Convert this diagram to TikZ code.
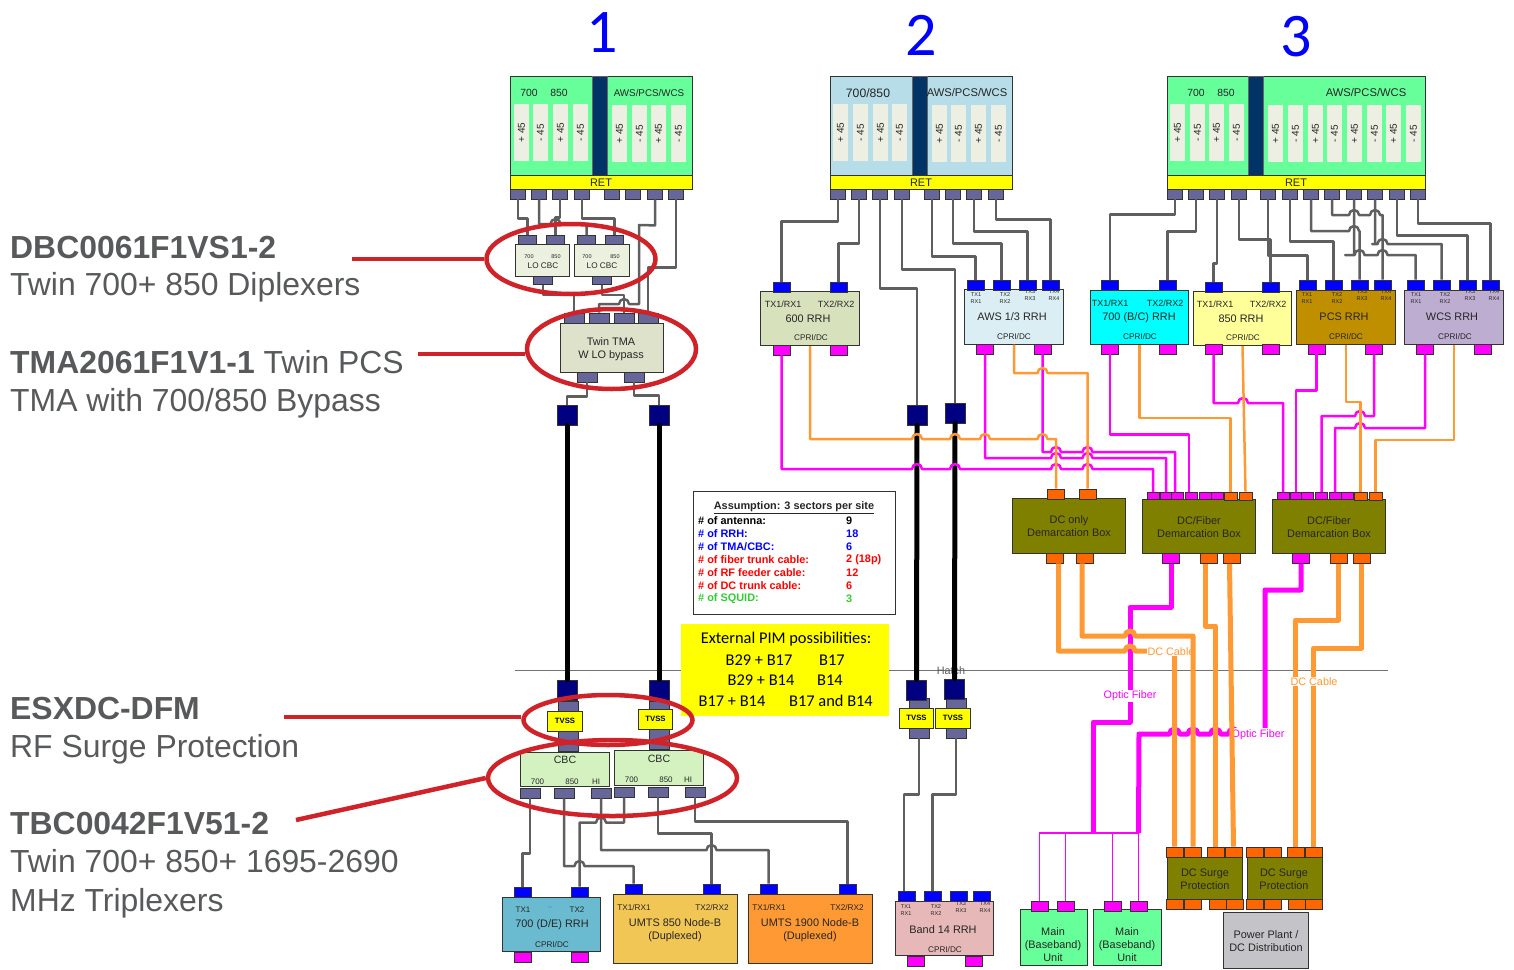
\documentclass[tikz,border=0pt]{standalone}
\usepackage{fontspec}
\setmainfont{Liberation Sans}
\newfontfamily\calfont{Carlito}
\usetikzlibrary{shapes.geometric}
\usetikzlibrary{positioning}
\usepackage{xcolor}

\definecolor{antgreen}{HTML}{66FF99}
\definecolor{antblue}{HTML}{B7DDE8}
\definecolor{barnavy}{HTML}{003366}
\definecolor{stripgrey}{HTML}{EEEFE3}
\definecolor{portgrey}{HTML}{666699}
\definecolor{rfgrey}{HTML}{5F5F5F}
\definecolor{dcorange}{HTML}{FF9933}
\definecolor{dcfill}{HTML}{FF6600}
\definecolor{navy}{HTML}{000080}
\definecolor{ringred}{HTML}{CF2229}
\definecolor{leftgrey}{HTML}{58595B}
\definecolor{olive}{HTML}{808000}
\definecolor{txtdark}{HTML}{262626}
\definecolor{cbcfill}{HTML}{D3F2C0}
\definecolor{lofill}{HTML}{EBF1DE}
\definecolor{tmafill}{HTML}{DEE2CB}
\definecolor{rrhteal}{HTML}{6BBBD0}
\definecolor{umtsyel}{HTML}{F2C655}
\definecolor{b14fill}{HTML}{E6B8B7}
\definecolor{rrhsage}{HTML}{D7E2BC}
\definecolor{awsfill}{HTML}{DAEEF3}
\definecolor{r85fill}{HTML}{FFFF99}
\definecolor{pcsfill}{HTML}{BF8F00}
\definecolor{wcsfill}{HTML}{BDADD0}
\definecolor{plantgrey}{HTML}{C4C4C8}
\definecolor{sqgreen}{HTML}{33CC33}
\definecolor{pink}{HTML}{FF00FF}
\definecolor{aqua}{HTML}{00FFFF}
\definecolor{lemon}{HTML}{FFFF00}

\newcommand{\fsz}[1]{\fontsize{#1}{#1}\selectfont}
% small bump of a line over a crossing line
\newcommand{\hopR}[2]{-- (#1-5,#2) arc[start angle=180,end angle=360,radius=5]}
\newcommand{\hopL}[2]{-- (#1+5,#2) arc[start angle=0,end angle=-180,radius=5]}

\tikzset{
  boxbase/.style={draw=black!80, line width=0.8pt, inner sep=0pt},
  antbox/.style={boxbase, fill=#1, minimum width=182, minimum height=99},
  navybar/.style={boxbase, draw=black!60, fill=barnavy, minimum width=15, minimum height=99},
  retbar/.style={boxbase, fill=lemon, minimum height=14, font=\fsz{11}, text=txtdark},
  stripbox/.style={fill=stripgrey, inner sep=0pt, minimum width=57, minimum height=15, rotate=90, font=\fsz{10}, text=txtdark},
  rfport/.style={boxbase, fill=portgrey, minimum width=15, minimum height=10},
  wideport/.style={boxbase, fill=portgrey, minimum width=20, minimum height=10},
  loport/.style={boxbase, fill=portgrey, minimum width=18.5, minimum height=8.5},
  rrhport/.style={boxbase, fill=blue, minimum width=17, minimum height=10},
  cpriport/.style={boxbase, fill=pink, minimum width=17, minimum height=10},
  dcport/.style={boxbase, fill=dcfill, minimum width=17, minimum height=10},
  pinport/.style={boxbase, fill=pink, minimum width=12, minimum height=7.5},
  dcpin/.style={boxbase, fill=dcfill, minimum width=13, minimum height=8},
  navysq/.style={boxbase, fill=navy, minimum width=20, minimum height=20},
  tvssbox/.style={boxbase, fill=lemon, minimum width=34.5, minimum height=20, font=\bfseries\fsz{7.7}, text=black},
  rrhbox/.style={boxbase, fill=#1, minimum width=98.5, minimum height=54.5},
  unitbox/.style={boxbase, fill=#1, minimum width=124, minimum height=69},
  demarcbox/.style={boxbase, fill=olive, minimum width=113, minimum height=54.5},
  surgebox/.style={boxbase, fill=olive, minimum width=75, minimum height=42},
  txt/.style={inner sep=0pt, yshift=-0.8pt, text=txtdark, font=\fontsize{10.9}{13}\selectfont, align=center},
  txtport/.style={txt, font=\fsz{9}},
  txtcpri/.style={txt, font=\fsz{8.2}},
  txttiny/.style={txt, font=\fontsize{5.5}{6.7}\selectfont},
  txtcbc/.style={txt, font=\fsz{8}},
  rowtxt/.style={inner sep=0pt, anchor=west, font=\bfseries\fsz{10.9}, text=#1},
  pimtxt/.style={inner sep=0pt, text=black, font=\calfont\fsz{16.4}},
  numtxt/.style={inner sep=0pt, text=blue, font=\calfont\fsz{62}},
  lefttxt/.style={inner sep=0pt, anchor=base west, text=leftgrey, font=\fsz{31.9}},
  cabletxt/.style={fill=white, inner sep=1pt, text=#1, font=\fsz{10.8}},
  ring/.style={ellipse, draw=ringred, line width=4.5pt, inner sep=0pt},
  calloutline/.style={draw=ringred, line width=4.5pt},
  rfline/.style={draw=rfgrey, line width=2.5pt, line join=round},
  feeder/.style={draw=black, line width=5pt, line cap=round},
  fiberline/.style={draw=pink, line width=2.5pt, line join=round},
  fiberfat/.style={draw=pink, line width=5pt, line join=round},
  fiberbus/.style={draw=pink, line width=1.5pt},
  dcline/.style={draw=dcorange, line width=2.5pt, line join=round},
  dcfat/.style={draw=dcorange, line width=5pt, line join=round},
  hatchline/.style={draw=black!55, line width=1pt}
}

\begin{document}
\begin{tikzpicture}[x=1pt, y=-1pt]
  \useasboundingbox (0,0) rectangle (1514,969);

  % Hatch line
  \coordinate (hatchA) at (515,670);
  \coordinate (hatchB) at (1388,670);
  \draw[hatchline] (hatchA) -- (hatchB);
  \node[inner sep=0pt, text=black!65, font=\fsz{10.8}] (hatchlab) at (951,670.5) {Hatch};

  % Sector numbers
  \node[numtxt] (num1) at (602,33) {1};
  \node[numtxt] (num2) at (921,35) {2};
  \node[numtxt] (num3) at (1296,37) {3};

  % Antenna 1
  \node[antbox=antgreen] (ant1) at (601,125.5) {};
  \node[navybar, minimum width=15] (bar1) at (599.5,125.5) {};
  \node[retbar, minimum width=182, below=0pt of ant1] (ret1) {RET};
  \foreach \n/\x in {1/521.5,2/540.5,3/560.5,4/580.5}
    \node[stripbox] (a1s\n) at (\x,132.5) {\ifodd\n +\else -\fi{} 45};
  \foreach \n/\x in {5/619.5,6/639.5,7/658.5,8/678.5}
    \node[stripbox] (a1s\n) at (\x,133.5) {\ifodd\n +\else -\fi{} 45};
  \node[txt, font=\fsz{10.4}] (a1l1) at (529,92) {700};
  \node[txt, font=\fsz{10.4}] (a1l2) at (559,92) {850};
  \node[txt, font=\fsz{9.8}] (a1l3) at (649,92) {AWS/PCS/WCS};
  \foreach \n/\x in {1/518,2/539,3/560,4/582,5/612,6/633,7/655,8/676}
    \node[rfport] (a1p\n) at (\x,194) {};

  % Antenna 2
  \node[antbox=antblue] (ant2) at (921,125.5) {};
  \node[navybar] (bar2) at (919.5,125.5) {};
  \node[retbar, minimum width=182, below=0pt of ant2] (ret2) {RET};
  \foreach \n/\x in {1/840.5,2/860.5,3/880.5,4/899.5}
    \node[stripbox] (a2s\n) at (\x,132.5) {\ifodd\n +\else -\fi{} 45};
  \foreach \n/\x in {5/939.5,6/958.5,7/978.5,8/998.5}
    \node[stripbox] (a2s\n) at (\x,133.5) {\ifodd\n +\else -\fi{} 45};
  \node[txt, font=\fsz{12.2}] (a2l1) at (868,92) {700/850};
  \node[txt, font=\fsz{11.2}] (a2l2) at (967,92) {AWS/PCS/WCS};
  \foreach \n/\x in {1/838,2/859,3/880,4/902,5/932,6/953,7/974,8/996}
    \node[rfport] (a2p\n) at (\x,194) {};

  % Antenna 3
  \node[antbox=antgreen, minimum width=258] (ant3) at (1296,125.5) {};
  \node[navybar] (bar3) at (1256,125.5) {};
  \node[retbar, minimum width=258, below=0pt of ant3] (ret3) {RET};
  \foreach \n/\x in {1/1177.5,2/1197.5,3/1216.5,4/1236.5}
    \node[stripbox] (a3s\n) at (\x,132.5) {\ifodd\n +\else -\fi{} 45};
  \foreach \n/\x in {5/1275.5,6/1295.5,7/1315.5,8/1334.5,9/1354.5,10/1374.5,11/1393.5,12/1413.5}
    \node[stripbox] (a3s\n) at (\x,133.5) {\ifodd\n +\else -\fi{} 45};
  \node[txt, font=\fsz{10.4}] (a3l1) at (1196,92) {700};
  \node[txt, font=\fsz{10.4}] (a3l2) at (1226,92) {850};
  \node[txt, font=\fsz{11.2}] (a3l3) at (1366,92) {AWS/PCS/WCS};
  \foreach \n/\x in {1/1175,2/1196,3/1217,4/1239,5/1268,6/1290,7/1311,8/1332,9/1354,10/1375,11/1397,12/1418}
    \node[rfport] (a3p\n) at (\x,194) {};

  % LO CBC pair
  \node[boxbase, fill=lofill, minimum width=54, minimum height=32] (lo1) at (542,260) {};
  \node[boxbase, fill=lofill, minimum width=55, minimum height=32] (lo2) at (601.5,260) {};
  \node[txt, font=\fsz{5.5}] (lo1l1) at (529,256) {700};
  \node[txt, font=\fsz{5.5}] (lo1l2) at (556,256) {850};
  \node[txt, font=\fsz{8.2}] (lo1l3) at (543,265) {LO CBC};
  \node[txt, font=\fsz{5.5}] (lo2l1) at (587,256) {700};
  \node[txt, font=\fsz{5.5}] (lo2l2) at (615,256) {850};
  \node[txt, font=\fsz{8.2}] (lo2l3) at (602,265) {LO CBC};
  \foreach \n/\x in {lo1a/527.5,lo1b/555.5,lo2a/586.5,lo2b/614.5}
    \node[loport] (\n) at (\x,240) {};
  \foreach \n/\x in {lo1o/543,lo2o/602}
    \node[loport] (\n) at (\x,280.5) {};

  % Twin TMA
  \node[boxbase, fill=tmafill, minimum width=103, minimum height=49] (tma) at (611.5,347.5) {};
  \node[txt] (tmal) at (611,348) {Twin TMA\\W LO bypass};
  \foreach \n/\x in {1/574,2/599,3/624,4/648}
    \node[wideport] (tmat\n) at (\x,318) {};
  \foreach \n/\x in {1/587,2/634}
    \node[wideport] (tmab\n) at (\x,377) {};
  \node[navysq] (nv1) at (567,415) {};
  \node[navysq] (nv2) at (659,415) {};
  \node[navysq] (nv3) at (917,415) {};
  \node[navysq] (nv4) at (955,413) {};

  % Lower feeder ends and TVSS
  \node[wideport, minimum height=50] (gr1) at (568,726) {};
  \node[wideport, minimum height=48] (gr2) at (659,725) {};
  \node[wideport, minimum height=40] (gr3) at (919,718) {};
  \node[wideport, minimum height=40] (gr4) at (956,718) {};
  \node[navysq] (nl1) at (567,690) {};
  \node[navysq] (nl2) at (659,690) {};
  \node[navysq] (nl3) at (916.5,690) {};
  \node[navysq] (nl4) at (954.5,689) {};
  \node[tvssbox] (tv1) at (565,721) {TVSS};
  \node[tvssbox] (tv2) at (655.5,719) {TVSS};
  \node[tvssbox] (tv3) at (916.5,718) {TVSS};
  \node[tvssbox] (tv4) at (953,718) {TVSS};

  % Triplexers
  \node[boxbase, fill=cbcfill, minimum width=89, minimum height=34] (cb1) at (564.5,769) {};
  \node[boxbase, fill=cbcfill, minimum width=89, minimum height=35] (cb2) at (658.5,767.5) {};
  \node[txt, font=\fsz{10.6}] (cb1l) at (565,759) {CBC};
  \node[txt, font=\fsz{10.6}] (cb2l) at (659,758) {CBC};
  \foreach \n/\x/\t in {1/537.5/700,2/572/850,3/596/HI}
    \node[txtcbc] (cb1t\n) at (\x,781) {\t};
  \foreach \n/\x/\t in {1/631.5/700,2/666/850,3/688/HI}
    \node[txtcbc] (cb2t\n) at (\x,779) {\t};
  \foreach \n/\x in {a/530,b/564,c/601}
    \node[wideport] (cb1\n) at (\x,793) {};
  \foreach \n/\x in {a/624,b/658,c/695}
    \node[wideport] (cb2\n) at (\x,792) {};

  % Bottom radio units
  \node[rrhbox=rrhteal] (r7d) at (551.5,924.5) {};
  \node[rrhport] (r7da) at (522.5,892) {};
  \node[rrhport] (r7db) at (579.5,892) {};
  \node[cpriport] (r7dc) at (522.5,957) {};
  \node[cpriport] (r7dd) at (579.5,957) {};
  \node[txtcbc] (r7dl1) at (523,909) {TX1};
  \node[txtcbc, text=rrhteal!70!blue] (r7dl2) at (550,908) {--};
  \node[txtcbc] (r7dl3) at (577,909) {TX2};
  \node[txt] (r7dl4) at (552,924) {700 (D/E) RRH};
  \node[txtcpri] (r7dl5) at (552,944) {CPRI/DC};

  \node[unitbox=umtsyel] (u8) at (675,928.5) {};
  \node[rrhport] (u8a) at (633.5,889) {};
  \node[rrhport] (u8b) at (711.5,889) {};
  \node[txtcpri] (u8l1) at (634,907) {TX1/RX1};
  \node[txtcpri] (u8l2) at (712,907) {TX2/RX2};
  \node[txt] (u8l3) at (675,929) {UMTS 850 Node-B\\(Duplexed)};

  \node[unitbox=dcorange] (u19) at (810,928.5) {};
  \node[rrhport] (u19a) at (768.5,889) {};
  \node[rrhport] (u19b) at (847.5,889) {};
  \node[txtcpri] (u19l1) at (769,907) {TX1/RX1};
  \node[txtcpri] (u19l2) at (847,907) {TX2/RX2};
  \node[txt] (u19l3) at (810,929) {UMTS 1900 Node-B\\(Duplexed)};

  \node[rrhbox=b14fill] (b14) at (944.5,928.5) {};
  \foreach \n/\x in {a/906.5,b/932.5,c/958.5,d/981.5}
    \node[rrhport] (b14\n) at (\x,896.5) {};
  \node[cpriport] (b14e) at (915.5,961) {};
  \node[cpriport] (b14f) at (973.5,961) {};
  \node[txttiny] (b14l1) at (906,909.5) {TX1\\RX1};
  \node[txttiny] (b14l2) at (936,909.5) {TX2\\RX2};
  \node[txttiny] (b14l3) at (961,906.5) {TX3\\RX3};
  \node[txttiny] (b14l4) at (985,906.5) {TX4\\RX4};
  \node[txt] (b14l5) at (943,929) {Band 14 RRH};
  \node[txtcpri] (b14l6) at (945,949) {CPRI/DC};

  % Radio heads, middle
  \node[rrhbox=rrhsage] (r600) at (810,318.5) {};
  \node[rrhport] (r600a) at (781.5,287) {};
  \node[rrhport] (r600b) at (838.5,287) {};
  \node[cpriport] (r600c) at (781.5,350) {};
  \node[cpriport] (r600d) at (838.5,350) {};
  \node[txtport] (r600l1) at (783,303) {TX1/RX1};
  \node[txtport] (r600l2) at (836,303) {TX2/RX2};
  \node[txt] (r600l3) at (808,318) {600 RRH};
  \node[txtcpri] (r600l4) at (811,337) {CPRI/DC};

  \node[rrhbox=awsfill] (r13) at (1014,317) {};
  \foreach \n/\x in {a/975.5,b/1001.5,c/1027.5,d/1050.5}
    \node[rrhport] (r13\n) at (\x,285) {};
  \node[cpriport] (r13e) at (985,349) {};
  \node[cpriport] (r13f) at (1042.5,349) {};
  \node[txttiny] (r13l1) at (976,297) {TX1\\RX1};
  \node[txttiny] (r13l2) at (1005,297) {TX2\\RX2};
  \node[txttiny] (r13l3) at (1030,294.5) {TX3\\RX3};
  \node[txttiny] (r13l4) at (1054,294.5) {TX4\\RX4};
  \node[txt] (r13l5) at (1012,316) {AWS 1/3 RRH};
  \node[txtcpri] (r13l6) at (1014,336) {CPRI/DC};

  % Radio heads, right
  \node[rrhbox=aqua] (r7c) at (1139.5,317.5) {};
  \node[rrhport] (r7ca) at (1110,285) {};
  \node[rrhport] (r7cb) at (1167.5,285) {};
  \node[cpriport] (r7cc) at (1110,349) {};
  \node[cpriport] (r7cd) at (1167.5,349) {};
  \node[txtport] (r7cl1) at (1110,302) {TX1/RX1};
  \node[txtport] (r7cl2) at (1165,302) {TX2/RX2};
  \node[txt] (r7cl3) at (1139,317) {700 (B/C) RRH};
  \node[txtcpri] (r7cl4) at (1140,336) {CPRI/DC};

  \node[rrhbox=r85fill] (r85) at (1242.5,318.5) {};
  \node[rrhport] (r85a) at (1213.5,287) {};
  \node[rrhport] (r85b) at (1270.5,287) {};
  \node[cpriport] (r85c) at (1213.5,349) {};
  \node[cpriport] (r85d) at (1270.5,349) {};
  \node[txtport] (r85l1) at (1215,303) {TX1/RX1};
  \node[txtport] (r85l2) at (1268,303) {TX2/RX2};
  \node[txt] (r85l3) at (1241,318) {850 RRH};
  \node[txtcpri] (r85l4) at (1243,337) {CPRI/DC};

  \node[rrhbox=pcsfill] (rpcs) at (1346,317.5) {};
  \foreach \n/\x in {a/1307.5,b/1333.5,c/1359.5,d/1382.5}
    \node[rrhport] (rpcs\n) at (\x,285) {};
  \node[cpriport] (rpcse) at (1316.5,349) {};
  \node[cpriport] (rpcsf) at (1374,349) {};
  \node[txttiny] (rpcsl1) at (1307,297) {TX1\\RX1};
  \node[txttiny] (rpcsl2) at (1337,297) {TX2\\RX2};
  \node[txttiny] (rpcsl3) at (1362,294.5) {TX3\\RX3};
  \node[txttiny] (rpcsl4) at (1386,294.5) {TX4\\RX4};
  \node[txt] (rpcsl5) at (1344,316) {PCS RRH};
  \node[txtcpri] (rpcsl6) at (1346,336) {CPRI/DC};

  \node[rrhbox=wcsfill] (rwcs) at (1454,317.5) {};
  \foreach \n/\x in {a/1415.5,b/1441.5,c/1467.5,d/1490.5}
    \node[rrhport] (rwcs\n) at (\x,285) {};
  \node[cpriport] (rwcse) at (1425,349) {};
  \node[cpriport] (rwcsf) at (1482.5,349) {};
  \node[txttiny] (rwcsl1) at (1416,297) {TX1\\RX1};
  \node[txttiny] (rwcsl2) at (1445,297) {TX2\\RX2};
  \node[txttiny] (rwcsl3) at (1470,294.5) {TX3\\RX3};
  \node[txttiny] (rwcsl4) at (1494,294.5) {TX4\\RX4};
  \node[txt] (rwcsl5) at (1452,316) {WCS RRH};
  \node[txtcpri] (rwcsl6) at (1455,336) {CPRI/DC};

  % Demarcation boxes
  \node[demarcbox] (dmA) at (1068.5,526) {};
  \node[txt] (dmAl) at (1069,525.5) {DC only\\Demarcation Box};
  \node[dcport] (dmAt1) at (1056,494) {};
  \node[dcport] (dmAt2) at (1087.5,494) {};
  \node[dcport] (dmAo1) at (1054.5,558) {};
  \node[dcport] (dmAo2) at (1085,558) {};

  \node[demarcbox] (dmB) at (1198.5,526.5) {};
  \node[txt] (dmBl) at (1199,526.5) {DC/Fiber\\Demarcation Box};
  \foreach \n/\x in {1/1153,2/1166,3/1177.5,4/1191.5,5/1205,6/1217}
    \node[pinport] (dmBt\n) at (\x,496) {};
  \node[dcpin] (dmBo1) at (1230.5,496) {};
  \node[dcpin] (dmBo2) at (1245.5,496) {};
  \node[cpriport] (dmBf) at (1171,558.5) {};
  \node[dcport] (dmBd1) at (1208.5,558.5) {};
  \node[dcport] (dmBd2) at (1231.5,558.5) {};

  \node[demarcbox] (dmC) at (1328.5,526.5) {};
  \node[txt] (dmCl) at (1329,526.5) {DC/Fiber\\Demarcation Box};
  \foreach \n/\x in {1/1283,2/1296,3/1307.5,4/1321.5,5/1335,6/1347}
    \node[pinport] (dmCt\n) at (\x,496) {};
  \node[dcpin] (dmCo1) at (1360.5,496) {};
  \node[dcpin] (dmCo2) at (1375.5,496) {};
  \node[cpriport] (dmCf) at (1301,558.5) {};
  \node[dcport] (dmCd1) at (1338.5,558.5) {};
  \node[dcport] (dmCd2) at (1361.5,558.5) {};

  % Surge protection
  \node[surgebox] (sg1) at (1204.5,878) {};
  \node[txt] (sg1l) at (1205,878.5) {DC Surge\\Protection};
  \node[surgebox] (sg2) at (1284.5,878) {};
  \node[txt] (sg2l) at (1284,878.5) {DC Surge\\Protection};
  \foreach \n/\x in {1/1174.5,2/1193,3/1215.5,4/1233.5,5/1254.5,6/1272.5,7/1295.5,8/1313.5}
    \node[dcport] (sgt\n) at (\x,852) {};
  \foreach \n/\x in {1/1174.5,2/1193,3/1217.5,4/1234.5,5/1254.5,6/1272.5,7/1297,8/1314}
    \node[dcport] (sgb\n) at (\x,904) {};
  \node[boxbase, fill=plantgrey, minimum width=85, minimum height=56] (plant) at (1265.5,940) {};
  \node[txt] (plantl) at (1266,940.5) {Power Plant /\\DC Distribution};

  % Baseband units
  \node[boxbase, fill=antgreen, minimum width=67, minimum height=56] (bu1) at (1053.5,937) {};
  \node[boxbase, fill=antgreen, minimum width=68, minimum height=56] (bu2) at (1127,937) {};
  \node[txt] (bu1l) at (1053,944) {Main\\(Baseband)\\Unit};
  \node[txt] (bu2l) at (1127,944) {Main\\(Baseband)\\Unit};
  \foreach \n/\x in {a/1039.5,b/1065.5,c/1112.5,d/1138.5}
    \node[cpriport] (bu\n) at (\x,906.5) {};

  % Assumption table
  \node[boxbase, fill=white, minimum width=202, minimum height=123] (asm) at (794,552.5) {};
  \node[inner sep=0pt, font=\bfseries\fsz{10.9}, text=txtdark] (asmt) at (794,508) {\underline{Assumption: 3 sectors per site}};
  \foreach \n/\y/\c/\a/\b in {1/520.5/black/{\# of antenna:}/9,
      2/533.5/blue/{\# of RRH:}/18,
      3/546.5/blue/{\# of TMA/CBC:}/6,
      4/559.5/red/{\# of fiber trunk cable:}/2 (18p),
      5/572.5/red/{\# of RF feeder cable:}/12,
      6/585.5/red/{\# of DC trunk cable:}/6,
      7/598.5/sqgreen/{\# of SQUID:}/3}{
    \node[rowtxt=\c] (asml\n) at (698,\y) {\a};
    \node[rowtxt=\c] (asmr\n) at (846,\y) {\b};
  }

  % External PIM
  \node[fill=lemon, inner sep=0pt, minimum width=208, minimum height=92] (pim) at (785,670) {};
  \node[pimtxt] (pim0) at (786,639.5) {External PIM possibilities:};
  \node[pimtxt] (pim1) at (759,660) {B29 + B17};
  \node[pimtxt] (pim2) at (832,660) {B17};
  \node[pimtxt] (pim3) at (761,680.5) {B29 + B14};
  \node[pimtxt] (pim4) at (830,680.5) {B14};
  \node[pimtxt] (pim5) at (732,701) {B17 + B14};
  \node[pimtxt] (pim6) at (831,701) {B17 and B14};

  % RF jumpers, antenna 1
  \draw[rfline] (a1p1.south) -- ++(0,19) -| (lo1a.north);
  \draw[rfline] (a1p3.south) -- ++(0,18) -| (lo1b.north);
  \draw[rfline] (a1p2.south) |- (545,224) \hopR{555.5}{224} -| (lo2a.north);
  \draw[rfline] (a1p4.south) -- ++(0,19) -| (lo2b.north);
  \draw[rfline] (lo1o.south) -- ++(0,10) -| (tmat1.north);
  \draw[rfline] (lo2o.south) -- ++(0,10) -| (tmat3.north);
  \draw[rfline] (a1p7.south) -- ++(0,26) -- (639,225) -- (639,304) \hopL{624}{304} -| (tmat2.north);
  \draw[rfline] (a1p8.south) -- ++(0,68) -| (tmat4.north);
  \draw[rfline] (tmab1.south) -- ++(0,14) -| (nv1.north);
  \draw[rfline] (tmab2.south) -- ++(0,13) -| (nv2.north);

  % RF jumpers, antenna 2
  \draw[rfline] (a2p1.south) -- ++(0,22) -| (r600a.north);
  \draw[rfline] (a2p2.south) -- ++(0,44) -| (r600b.north);
  \draw[rfline] (a2p3.south) -- ++(0,89) -| (nv3.north);
  \draw[rfline] (a2p4.south) -- ++(0,70) -| (nv4.north);
  \draw[rfline] (a2p5.south) -- ++(0,57) -| (r13a.north);
  \draw[rfline] (a2p6.south) -- ++(0,44) -| (r13b.north);
  \draw[rfline] (a2p7.south) -- ++(0,32) -| (r13c.north);
  \draw[rfline] (a2p8.south) -- ++(0,20) -| (r13d.north);

  % RF jumpers, antenna 3
  \draw[rfline] (a3p1.south) -- ++(0,15) -| (r7ca.north);
  \draw[rfline] (a3p2.south) -- ++(0,32) -| (r7cb.north);
  \draw[rfline] (a3p3.south) -- ++(0,64) -| (r85a.north);
  \draw[rfline] (a3p4.south) -- ++(0,40) -| (r85b.north);
  \draw[rfline] (a3p5.south) -- ++(0,56) -| (rpcsa.north);
  \draw[rfline] (a3p6.south) -- ++(0,42) -| (rpcsb.north);
  \draw[rfline] (a3p7.south) |- (1340,231) \hopR{1354}{231} -| (rpcsc.north);
  \draw[rfline] (a3p8.south) |- (1340,215) \hopR{1354}{215} \hopR{1375}{215} -| (rpcsd.north);
  \draw[rfline] (a3p9.south) |- (1345,255) \hopR{1359.5}{255} \hopR{1382.5}{255} -| (rwcsa.north);
  \draw[rfline] (a3p10.south) |- (1372,244) \hopR{1382.5}{244} -| (rwcsb.north);
  \draw[rfline] (a3p11.south) -- ++(0,36) -| (rwcsc.north);
  \draw[rfline] (a3p12.south) -- ++(0,24) -| (rwcsd.north);

  % Feeders and lower jumpers
  \draw[feeder] (nv1.south) -- (nl1.north);
  \draw[feeder] (nv2.south) -- (nl2.north);
  \draw[feeder] (nv3.south) -- (nl3.north);
  \draw[feeder] (nv4.south) -- (nl4.north);
  \draw[rfline] (gr3.south) -- ++(0,56) -| ([xshift=-2.5pt]b14a.north);
  \draw[rfline] (gr4.south) -- ++(0,56) -| (b14b.north);
  \draw[rfline] (cb1a.south) -- ++(0,55) -| (r7da.north);
  \draw[rfline] (cb1b.south) |- (570,866) \hopR{579.5}{866} -| (u8a.north);
  \draw[rfline] (cb1c.south) |- (700,850) \hopR{711.5}{850} -| (u19a.north);
  \draw[rfline] (cb2a.south) |- (610,822.5) \hopL{601}{822.5} -| (r7db.north);
  \draw[rfline] (cb2b.south) -- ++(0,36) -| (u8b.north);
  \draw[rfline] (cb2c.south) -- ++(0,24) -| (u19b.north);

  % CPRI fiber and DC, thin
  \draw[fiberline] (r600c.south) |- (900,469) \hopR{917}{469} \hopR{955}{469} \hopR{1056}{469} \hopR{1087.5}{469} -| (dmBt1.north);
  \draw[fiberline] (r13e.south) |- (1040,458) \hopR{1056}{458} \hopR{1087.5}{458} -| (dmBt2.north);
  \draw[fiberline] (r13f.south) |- (1046,452) \hopR{1056}{452} \hopR{1087.5}{452} -| ([xshift=-2.5pt]dmBt3.north);
  \draw[fiberline] (r7cc.south) -- ++(0,80) -| ([xshift=-2.5pt]dmBt4.north);
  \draw[fiberline] (r85c.south) |- (1230,403) \hopR{1243}{403} -| (dmCt1.north);
  \draw[fiberline] (rpcse.south) -- ++(0,36) -| (dmCt2.north);
  \draw[fiberline] (rpcsf.south) |- (1370,416) \hopL{1360}{416} -| (dmCt4.north);
  \draw[fiberline] (rwcse.south) |- (1370,428) \hopL{1360}{428} -| (dmCt5.north);
  \draw[dcline] (r600.south) |- (900,439) \hopR{917}{439} \hopR{955}{439} \hopR{985}{439} \hopR{1042.5}{439} -| (dmAt1.north);
  \draw[dcline] (r13.south) |- (1030,373) \hopR{1042.5}{373} -| (dmAt2.north);
  \draw[dcline] (r7c.south) -- ++(0,73) -| (dmBo1.north);
  \draw[dcline] (r85.south) -- (dmBo2.north);
  \draw[dcline] (rpcs.south) -- ++(0,57) -| (dmCo1.north);
  \draw[dcline] (rwcs.south) -- ++(0,95) -| (dmCo2.north);

  % Baseband bus
  \coordinate (busA) at (1093,833);
  \coordinate (busB) at (1138.5,833);
  \draw[fiberbus] (bua.north) |- (busB) -- (bud.north);
  \draw[fiberbus] (bub.north) -- (bub.north |- busA);
  \draw[fiberbus] (buc.north) -- (buc.north |- busA);

  % Trunks, thick
  \draw[fiberfat] (dmBf.south) |- (1130,607) |- (1093,722) -- (busA);
  \draw[fiberfat] (dmCf.south) |- (1265,590) -- (1265,734) \hopL{1233.5}{734} \hopL{1215.5}{734} \hopL{1193}{734} \hopL{1174.5}{734} -- (1139,734) -- (busB);
  \node[cabletxt=pink] (optA) at (1130,696) {Optic Fiber};
  \node[cabletxt=pink] (optB) at (1258,734.5) {Optic Fiber};
  \draw[dcfat] ([xshift=4pt]dmAo1.south) |- (1115,651) \hopR{1130}{651} -| (sgt1.north);
  \node[cabletxt=dcorange] (dcA) at (1171,651.5) {DC Cable};
  \draw[dcfat] ([xshift=-3pt]dmAo2.south) |- (1115,636) \hopR{1130}{636} -| (sgt2.north);
  \draw[dcfat] ([xshift=-3pt]dmBd1.south) |- (1215.5,626) -- (sgt3.north);
  \draw[dcfat] ([xshift=-2pt]dmBd2.south) -- (sgt4.north);
  \draw[dcfat] (dmCd1.south) |- (1295.5,620) -- (sgt7.north);
  \draw[dcfat] (dmCd2.south) |- (1313.5,648) -- (sgt8.north);
  \node[cabletxt=dcorange] (dcB) at (1314,681.5) {DC Cable};

  % Model callouts
  \node[ring, minimum width=169, minimum height=70] (dbcring) at (571,259) {};
  \node[ring, minimum width=169, minimum height=80] (tmaring) at (611.5,349) {};
  \node[ring, minimum width=169, minimum height=50] (esxring) at (608,720) {};
  \node[ring, minimum width=249, minimum height=76] (tbcring) at (612.5,778) {};
  \coordinate (dbcend) at (352,259);
  \coordinate (tmaend) at (418,354);
  \coordinate (esxend) at (284,717);
  \coordinate (tbcend) at (296,820);
  \draw[calloutline] (dbcend) -- (dbcend -| dbcring.west);
  \draw[calloutline] (tmaend) -- (tmaend -| tmaring.west);
  \draw[calloutline] (esxend) -- (esxend -| esxring.west);
  \draw[calloutline] (tbcend) -- (tbcring.west);

  \node[lefttxt] (dbc1) at (10,258) {\bfseries DBC0061F1VS1-2};
  \node[lefttxt] (dbc2) at (10,295) {Twin 700+ 850 Diplexers};
  \node[lefttxt] (tma1) at (10,373) {\textbf{TMA2061F1V1-1} Twin PCS};
  \node[lefttxt] (tma2) at (10,411) {TMA with 700/850 Bypass};
  \node[lefttxt] (esx1) at (10,719) {\bfseries ESXDC-DFM};
  \node[lefttxt] (esx2) at (10,757) {RF Surge Protection};
  \node[lefttxt] (tbc1) at (10,834) {\bfseries TBC0042F1V51-2};
  \node[lefttxt] (tbc2) at (10,872) {Twin 700+ 850+ 1695-2690};
  \node[lefttxt] (tbc3) at (10,911) {MHz Triplexers};
\end{tikzpicture}
\end{document}
